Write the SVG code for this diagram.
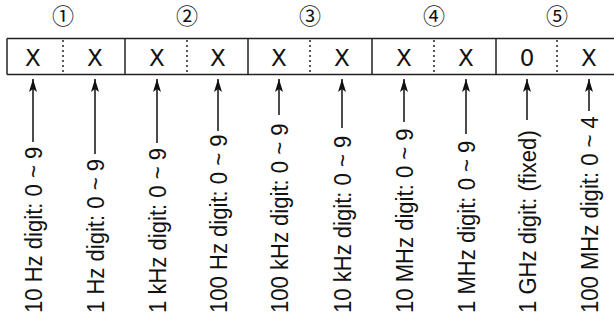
<svg xmlns="http://www.w3.org/2000/svg" width="614" height="327" viewBox="0 0 614 327">
<style>
.frame{stroke:#222;stroke-width:1.5;fill:none}
.dot{stroke:#222;stroke-width:1.5;stroke-dasharray:2 3;fill:none}
.digit{font-family:"DejaVu Sans",sans-serif;font-size:23px;fill:#111;text-anchor:middle}
.num{font-family:"Noto Sans CJK JP","Noto Sans CJK SC",sans-serif;font-size:22px;fill:#111;text-anchor:middle}
.lbl{font-family:"Liberation Sans",Arial,sans-serif;font-size:24px;fill:#111}
.arr{stroke:#111;stroke-width:1.5;fill:none;marker-end:url(#ah)}
</style>
<defs>
<marker id="ah" markerUnits="userSpaceOnUse" markerWidth="14" markerHeight="10" viewBox="0 -5 14 10" refX="13" refY="0" orient="auto">
<path d="M13,0 L0,-4 L3,0 L0,4 Z" fill="#111"/>
</marker>
</defs>
<g id="register">
<line class="frame" x1="7" y1="38.5" x2="614" y2="38.5"/>
<line class="frame" x1="7" y1="74.5" x2="614" y2="74.5"/>
<line class="frame" x1="7" y1="38.5" x2="7" y2="74.5"/>
<line class="frame" x1="125" y1="38.5" x2="125" y2="74.5"/>
<line class="frame" x1="248" y1="38.5" x2="248" y2="74.5"/>
<line class="frame" x1="372" y1="38.5" x2="372" y2="74.5"/>
<line class="frame" x1="496" y1="38.5" x2="496" y2="74.5"/>
<line class="dot" x1="63" y1="40" x2="63" y2="74"/>
<line class="dot" x1="187" y1="40" x2="187" y2="74"/>
<line class="dot" x1="310" y1="40" x2="310" y2="74"/>
<line class="dot" x1="434" y1="40" x2="434" y2="74"/>
<line class="dot" x1="557" y1="40" x2="557" y2="74"/>
</g>
<g id="bytes">
<text class="num" x="63" y="23.5">①</text>
<text class="num" x="187" y="23.5">②</text>
<text class="num" x="310" y="23.5">③</text>
<text class="num" x="434" y="23.5">④</text>
<text class="num" x="557" y="23.5">⑤</text>
</g>
<g id="digits">
<text class="digit" x="33" y="66">X</text>
<text class="digit" x="95" y="66">X</text>
<text class="digit" x="157" y="66">X</text>
<text class="digit" x="218" y="66">X</text>
<text class="digit" x="279" y="66">X</text>
<text class="digit" x="342" y="66">X</text>
<text class="digit" x="404" y="66">X</text>
<text class="digit" x="466" y="66">X</text>
<text class="digit" x="527" y="66">0</text>
<text class="digit" x="589" y="66">X</text>
</g>
<g id="connectors">
<line class="arr" x1="33" y1="142" x2="33" y2="79"/>
<line class="arr" x1="95" y1="154" x2="95" y2="79"/>
<line class="arr" x1="157" y1="143" x2="157" y2="79"/>
<line class="arr" x1="218" y1="131" x2="218" y2="79"/>
<line class="arr" x1="279" y1="115" x2="279" y2="79"/>
<line class="arr" x1="342" y1="128" x2="342" y2="79"/>
<line class="arr" x1="404" y1="122" x2="404" y2="79"/>
<line class="arr" x1="466" y1="134" x2="466" y2="79"/>
<line class="arr" x1="527" y1="120" x2="527" y2="79"/>
<line class="arr" x1="589" y1="111" x2="589" y2="79"/>
</g>
<g id="label-1"><text class="lbl" transform="translate(41.5 313) rotate(-90) scale(0.92 1)">10 Hz digit: 0 ~ 9</text></g>
<g id="label-2"><text class="lbl" transform="translate(103.5 313) rotate(-90) scale(0.92 1)">1 Hz digit: 0 ~ 9</text></g>
<g id="label-3"><text class="lbl" transform="translate(165.5 313) rotate(-90) scale(0.92 1)">1 kHz digit: 0 ~ 9</text></g>
<g id="label-4"><text class="lbl" transform="translate(226.5 313) rotate(-90) scale(0.92 1)">100 Hz digit: 0 ~ 9</text></g>
<g id="label-5"><text class="lbl" transform="translate(287.5 313) rotate(-90) scale(0.92 1)">100 kHz digit: 0 ~ 9</text></g>
<g id="label-6"><text class="lbl" transform="translate(350.5 313) rotate(-90) scale(0.92 1)">10 kHz digit: 0 ~ 9</text></g>
<g id="label-7"><text class="lbl" transform="translate(412.5 313) rotate(-90) scale(0.92 1)">10 MHz digit: 0 ~ 9</text></g>
<g id="label-8"><text class="lbl" transform="translate(474.5 313) rotate(-90) scale(0.92 1)">1 MHz digit: 0 ~ 9</text></g>
<g id="label-9"><text class="lbl" transform="translate(535.5 313) rotate(-90) scale(0.92 1)">1 GHz digit: (fixed)</text></g>
<g id="label-10"><text class="lbl" transform="translate(597.5 313) rotate(-90) scale(0.92 1)">100 MHz digit: 0 ~ 4</text></g>
</svg>
